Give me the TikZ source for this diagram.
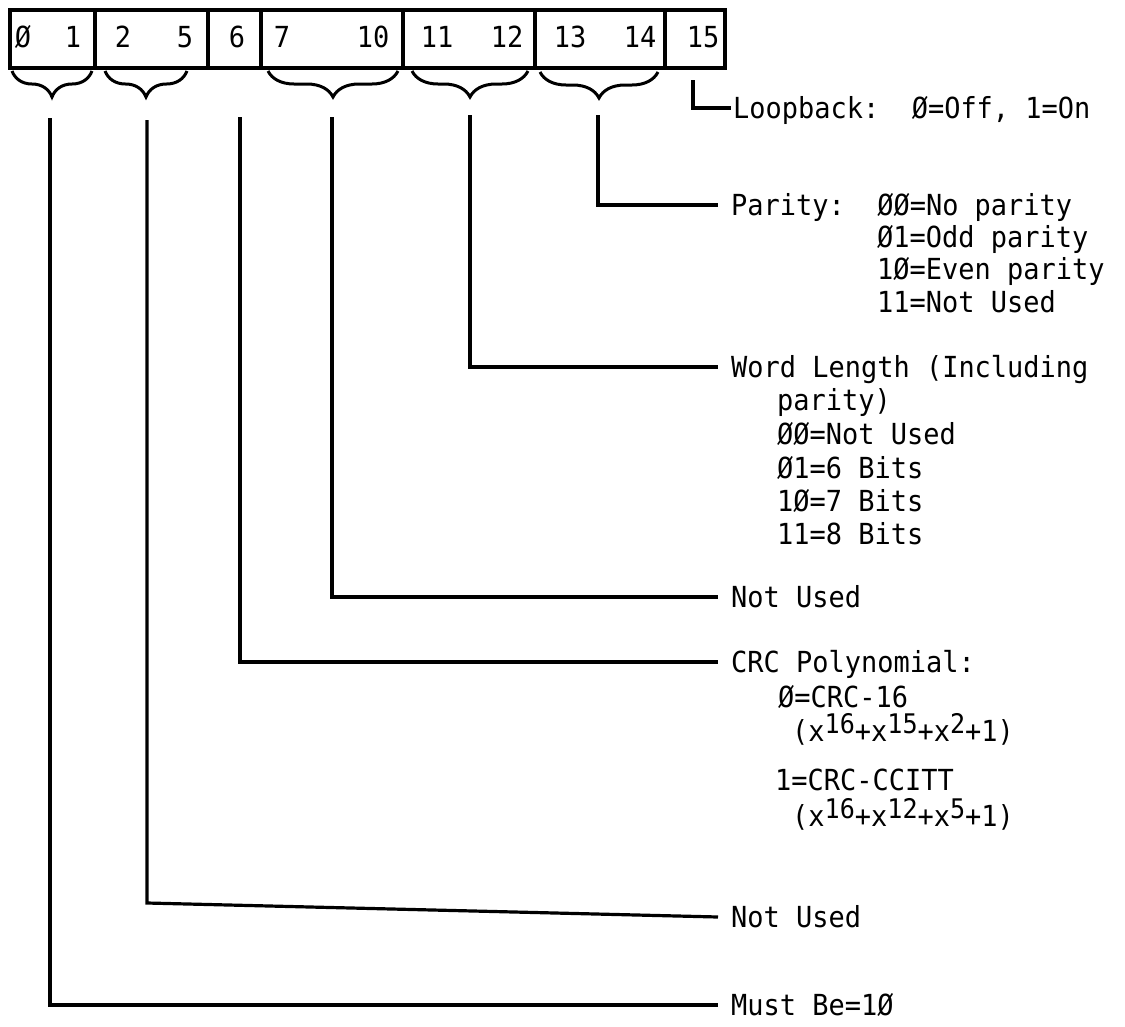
\documentclass[tikz,border=0pt]{standalone}
\usepackage{fontspec}
\newfontfamily\tw[FakeStretch=0.93]{DejaVu Sans Mono}
\usetikzlibrary{decorations.pathreplacing}
\newcommand\supr[1]{\raisebox{8pt}{\fontsize{27}{27}\selectfont #1}}
\begin{document}
\begin{tikzpicture}[x=1pt,y=-1pt,
  font=\tw\fontsize{29}{29}\selectfont\frenchspacing,
  field/.style={draw, line width=3.2pt, inner sep=0pt, minimum height=58pt},
  bitno/.style={inner sep=0pt, text height=21pt, text depth=0pt},
  lbl/.style={anchor=west, inner xsep=13pt, inner ysep=0pt, text height=21pt, text depth=0pt},
  sub/.style={anchor=west, inner sep=0pt, text height=21pt, text depth=0pt},
  brc/.style={decorate, decoration={brace, mirror, amplitude=26pt}, line width=3pt},
  wire/.style={line width=3.2pt}]
\useasboundingbox (0,0) rectangle (1125,1026);
\fill[white] (0,0) rectangle (1125,1026);
% register fields
\node[field, minimum width=85pt]  (f01)   at (52.5,39) {};
\node[field, minimum width=113pt] (f25)   at (151.5,39) {};
\node[field, minimum width=53pt]  (f6)    at (234.5,39) {};
\node[field, minimum width=142pt] (f710)  at (332,39) {};
\node[field, minimum width=132pt] (f1112) at (469,39) {};
\node[field, minimum width=130pt] (f1314) at (600,39) {};
\node[field, minimum width=60pt]  (f15)   at (695,39) {};
% bit numbers
\node[bitno] (n0)  at (23,37)  {Ø};
\node[bitno] (n1)  at (73,37)  {1};
\node[bitno] (n2)  at (123,37) {2};
\node[bitno] (n5)  at (185,37) {5};
\node[bitno] (n6)  at (237,37) {6};
\node[bitno] (n7)  at (282,37) {7};
\node[bitno] (n10) at (373,37) {10};
\node[bitno] (n11) at (437,37) {11};
\node[bitno] (n12) at (507,37) {12};
\node[bitno] (n13) at (570,37) {13};
\node[bitno] (n14) at (640,37) {14};
\node[bitno] (n15) at (703,37) {15};
% braces
\draw[brc] (12,71) -- (92,71);
\draw[brc] (105,71) -- (187,71);
\draw[brc] (268,71) -- (398,71);
\draw[brc] (412,71) -- (528,71);
\draw[brc] (540,72) -- (658,72);
% connector starts
\coordinate (t01)   at (50,118);
\coordinate (t25)   at (147,120);
\coordinate (k25)   at (147,903);
\coordinate (t6)    at (240,117);
\coordinate (t710)  at (332,117);
\coordinate (t1112) at (470,115);
\coordinate (t1314) at (598,115);
\coordinate (t15)   at (693,80);
% labels
\node[lbl, inner xsep=2pt] (loop) at (731,108) {Loopback:\ \ Ø=Off, 1=On};
\node[lbl] (par) at (718,205) {Parity:\ \ ØØ=No parity};
\node[sub] (par1) at (877,237) {Ø1=Odd parity};
\node[sub] (par2) at (877,269) {1Ø=Even parity};
\node[sub] (par3) at (877,302) {11=Not Used};
\node[lbl] (wl) at (718,367) {Word Length (Including};
\node[sub] (wl1) at (777,400) {parity)};
\node[sub] (wl2) at (777,434) {ØØ=Not Used};
\node[sub] (wl3) at (777,468) {Ø1=6 Bits};
\node[sub] (wl4) at (777,501) {1Ø=7 Bits};
\node[sub] (wl5) at (777,534) {11=8 Bits};
\node[lbl] (nu1) at (718,597) {Not Used};
\node[lbl] (crc) at (718,662) {CRC Polynomial:};
\node[sub] (crc1) at (778,697) {Ø=CRC-16};
\node[sub] (crc2) at (792,731) {(x\supr{16}+x\supr{15}+x\supr{2}+1)};
\node[sub] (crc3) at (775,780) {1=CRC-CCITT};
\node[sub] (crc4) at (792,816) {(x\supr{16}+x\supr{12}+x\supr{5}+1)};
\node[lbl] (nu2) at (718,917) {Not Used};
\node[lbl] (must) at (718,1005) {Must Be=1Ø};
% connectors
\draw[wire] (t15) |- (loop.west);
\draw[wire] (t1314) |- (par.west);
\draw[wire] (t1112) |- (wl.west);
\draw[wire] (t710) |- (nu1.west);
\draw[wire] (t6) |- (crc.west);
\draw[wire] (t25) -- (k25) -- (nu2.west);
\draw[wire] (t01) |- (must.west);
\end{tikzpicture}
\end{document}
